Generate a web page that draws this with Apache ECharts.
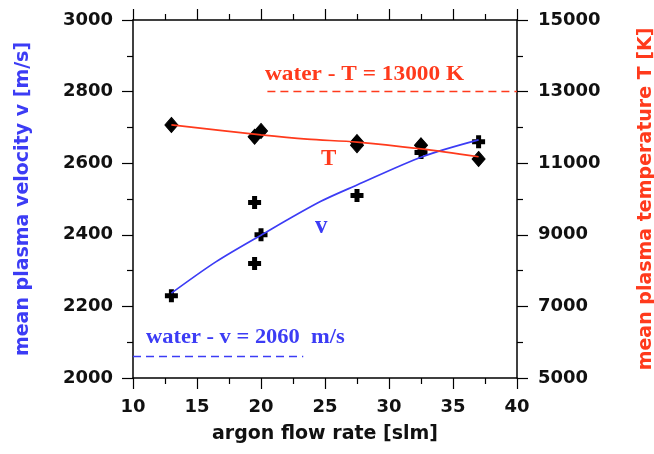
<!DOCTYPE html>
<html><head><meta charset="utf-8">
<script src="https://cdn.jsdelivr.net/npm/echarts@6/dist/echarts.min.js"></script>
<style>html,body{margin:0;padding:0;background:#fff}#c{width:654px;height:454px}</style>
</head><body><div id="c"></div>
<script>
// Measured data (argon flow rate [slm])
const velocityPoints = [[13,2230],[19.5,2490],[20,2400],[19.5,2320],[27.5,2510],[32.5,2630],[37,2660]];
const temperaturePoints = [[13,12070],[19.5,11740],[20,11900],[27.5,11590],[27.5,11500],[32.5,11500],[37,11120]];
// Fitted curves
const velocityFit = [[13,2237],[16.5,2325],[20,2399],[24.6,2492],[27.5,2539],[32.6,2618],[37,2665]];
const temperatureFit = [[13,12070],[20,11790],[23.6,11670],[27.5,11590],[32.5,11400],[37,11180]];
// Water reference levels
const waterVelocity = [[10,2060],[23.3,2060]];
const waterTemperature = [[20.5,13000],[40,13000]];

const BLUE = '#3c3cf5', RED = '#ff3a1c';
const tickFont = {fontFamily:'DejaVu Sans', fontWeight:'bold', fontSize:18, color:'#111',
  formatter: v => String(v)};
const plusPath = 'path://M4,0H9V4H13V9H9V13H4V9H0V4H4Z';

const chart = echarts.init(document.getElementById('c'), null, {renderer:'canvas'});
const axisCommon = {
  axisLine:{show:true, lineStyle:{color:'#000', width:1.5}},
  axisTick:{show:true, inside:false, length:11, lineStyle:{color:'#000', width:1.2}},
  minorTick:{show:true, splitNumber:2, length:6, lineStyle:{color:'#000', width:1.2}},
  splitLine:{show:false}
};
chart.setOption({
  animation:false,
  grid:{left:133, right:137, top:20, bottom:76, containLabel:false, outerBoundsMode:'none'},
  xAxis:[
    Object.assign({type:'value', min:10, max:40, interval:5, position:'bottom',
      name:'argon flow rate [slm]', nameLocation:'middle', nameGap:47,
      nameTextStyle:{fontFamily:'DejaVu Sans', fontWeight:'bold', fontSize:19, color:'#111'},
      axisLabel:Object.assign({margin:20}, tickFont)}, axisCommon),
    Object.assign({type:'value', min:10, max:40, interval:5, position:'top',
      axisLabel:{show:false}}, axisCommon)
  ],
  yAxis:[
    Object.assign({type:'value', min:2000, max:3000, interval:200, position:'left',
      name:'mean plasma velocity v [m/s]', nameLocation:'middle', nameGap:100,
      nameTextStyle:{fontFamily:'DejaVu Sans', fontWeight:'bold', fontSize:19, color:BLUE},
      axisLabel:Object.assign({margin:20}, tickFont)}, axisCommon),
    Object.assign({type:'value', min:5000, max:15000, interval:2000, position:'right',
      name:'mean plasma temperature T [K]', nameLocation:'middle', nameGap:120, nameRotate:90,
      nameTextStyle:{fontFamily:'DejaVu Sans', fontWeight:'bold', fontSize:19, color:RED},
      axisLabel:Object.assign({margin:21}, tickFont)}, axisCommon)
  ],
  series:[
    {type:'scatter', name:'v', data:velocityPoints, xAxisIndex:0, yAxisIndex:0, symbol:plusPath, symbolSize:13,
      itemStyle:{color:'#000', opacity:1}, z:2},
    {type:'scatter', name:'T', data:temperaturePoints, xAxisIndex:0, yAxisIndex:1, symbol:'diamond', symbolSize:[13,15],
      itemStyle:{color:'#000', borderColor:'#000', borderWidth:1, opacity:1}, z:2},
    {type:'line', name:'water v', data:waterVelocity, xAxisIndex:0, yAxisIndex:0, symbol:'none', z:3,
      lineStyle:{color:BLUE, width:1.5, type:[8,5]}},
    {type:'line', name:'water T', data:waterTemperature, xAxisIndex:0, yAxisIndex:1, symbol:'none', z:3,
      lineStyle:{color:RED, width:1.5, type:[8,5]}},
    {type:'line', name:'v fit', data:velocityFit, xAxisIndex:0, yAxisIndex:0, symbol:'none', smooth:0.3, z:3,
      lineStyle:{color:BLUE, width:1.7}},
    {type:'line', name:'T fit', data:temperatureFit, xAxisIndex:0, yAxisIndex:1, symbol:'none', smooth:0.3, z:3,
      lineStyle:{color:RED, width:1.7}}
  ],
  graphic:[
    {type:'text', x:265, y:64, scaleX:1.11, style:{text:'water - T = 13000 K', fill:RED,
      font:'bold 21px "Liberation Serif"'}},
    {type:'text', x:146, y:327, scaleX:1.07, style:{text:'water - v = 2060  m/s', fill:BLUE,
      font:'bold 21px "Liberation Serif"'}},
    {type:'text', x:321, y:148, style:{text:'T', fill:RED, font:'bold 23px "Liberation Serif"'}},
    {type:'text', x:315, y:214, style:{text:'v', fill:BLUE, font:'bold 25px "Liberation Serif"'}}
  ]
});
</script></body></html>
